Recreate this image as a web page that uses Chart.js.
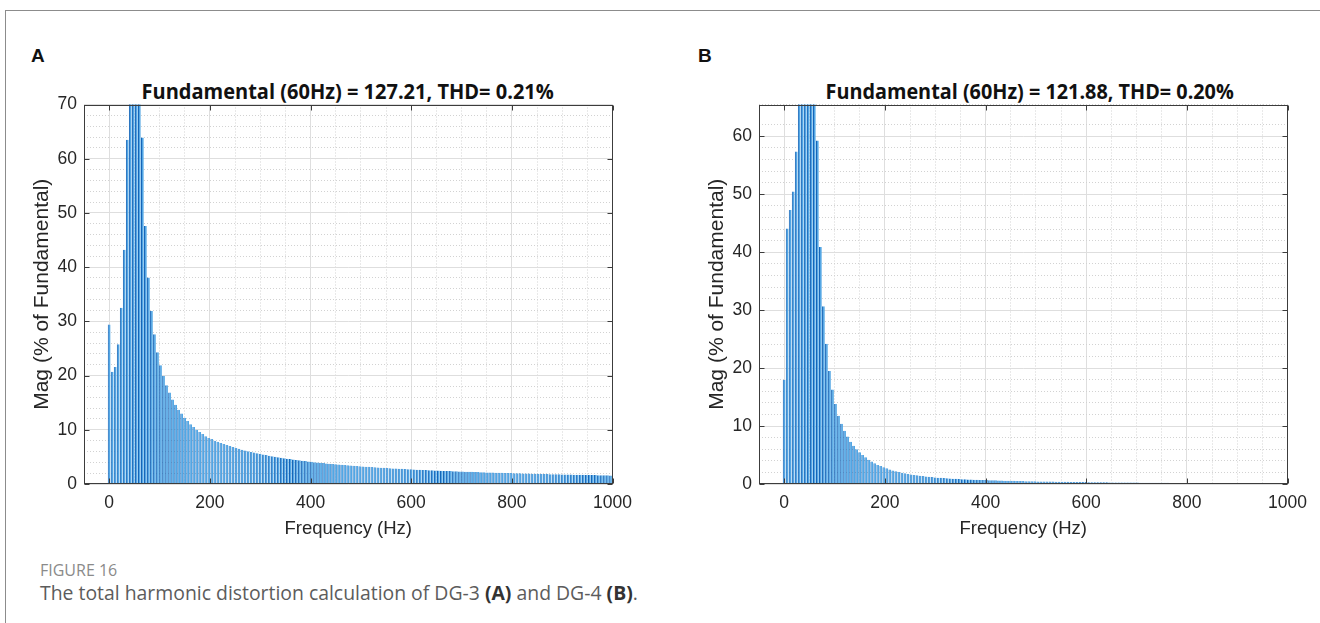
<!DOCTYPE html>
<html>
<head>
<meta charset="utf-8">
<script src="https://cdn.jsdelivr.net/npm/chart.js@4.4.1/dist/chart.umd.min.js"></script>
<style>
    html, body { margin: 0; padding: 0; background: #fff; }
    body { width: 1320px; height: 623px; position: relative; overflow: hidden; font-family: "Liberation Sans", Arial, sans-serif; }
    .frame-top { position: absolute; left: 5px; top: 10px; width: 1315px; border-top: 1.5px solid #8c8c8c; }
    .frame-left { position: absolute; left: 5px; top: 10px; height: 613px; border-left: 1.5px solid #8c8c8c; }
    .panel { position: absolute; font-weight: bold; font-size: 19px; color: #111; line-height: 1; }
    .ttl { position: absolute; width: 600px; text-align: center; line-height: 1; white-space: nowrap; }
    .ttl span { display: inline-block; font-family: "Open Sans", sans-serif; font-weight: 700; font-size: 22px; color: #111; transform-origin: center; }
    canvas { position: absolute; }
    .cap1 { position: absolute; left: 40px; top: 560px; font-family: "Open Sans", sans-serif; font-size: 16px; color: #8a8a8a; line-height: 21px; }
    .cap2 { position: absolute; left: 40px; top: 580px; font-family: "Open Sans", sans-serif; font-size: 19.4px; color: #5c5c5c; white-space: nowrap; line-height: 26px; }
    .cap2 b { color: #333; }
</style>
</head>
<body>
<div class="frame-top"></div>
<div class="frame-left"></div>

<div class="panel" style="left:31px; top:46px;">A</div>
<div class="panel" style="left:698px; top:46px;">B</div>

<div class="ttl" style="left:48px; top:79px;"><span id="ttlA">Fundamental (60Hz) = 127.21, THD= 0.21%</span></div>
<div class="ttl" style="left:730px; top:79px;"><span id="ttlB">Fundamental (60Hz) = 121.88, THD= 0.20%</span></div>

<canvas id="chartA" width="614" height="456" style="left:27px; top:87px;"></canvas>
<canvas id="chartB" width="614" height="456" style="left:702px; top:87px;"></canvas>

<div class="cap1">FIGURE 16</div>
<div class="cap2">The total harmonic distortion calculation of DG-3 <b>(A)</b> and DG-4 <b>(B)</b>.</div>

<script>
// ── Veri ──
const freqs = [
    0, 6, 12, 18, 24, 30, 36, 42, 48, 54,
    60, 66, 72, 78, 84, 90, 96, 102, 108, 114,
    120, 126, 132, 138, 144, 150, 156, 162, 168, 174,
    180, 186, 192, 198, 204, 210, 216, 222, 228, 234,
    240, 246, 252, 258, 264, 270, 276, 282, 288, 294,
    300, 306, 312, 318, 324, 330, 336, 342, 348, 354,
    360, 366, 372, 378, 384, 390, 396, 402, 408, 414,
    420, 426, 432, 438, 444, 450, 456, 462, 468, 474,
    480, 486, 492, 498, 504, 510, 516, 522, 528, 534,
    540, 546, 552, 558, 564, 570, 576, 582, 588, 594,
    600, 606, 612, 618, 624, 630, 636, 642, 648, 654,
    660, 666, 672, 678, 684, 690, 696, 702, 708, 714,
    720, 726, 732, 738, 744, 750, 756, 762, 768, 774,
    780, 786, 792, 798, 804, 810, 816, 822, 828, 834,
    840, 846, 852, 858, 864, 870, 876, 882, 888, 894,
    900, 906, 912, 918, 924, 930, 936, 942, 948, 954,
    960, 966, 972, 978, 984, 990, 996
];

// DG-3 (A)
const magA = [
    29.4, 20.7, 21.6, 25.8, 32.5, 43.2, 63.5, 88, 97, 99,
    100, 63.9, 47.6, 38.1, 31.9, 27.6, 24.3, 21.9, 19.9, 18.2,
    16.9, 15.6, 14.6, 13.7, 13.0, 12.2, 11.6, 11.0, 10.5, 10.0,
    9.6, 9.2, 8.8, 8.5, 8.3, 8.0, 7.8, 7.58, 7.38, 7.18,
    6.99, 6.82, 6.65, 6.49, 6.34, 6.19, 6.05, 5.92, 5.79, 5.67,
    5.55, 5.44, 5.33, 5.22, 5.12, 5.03, 4.93, 4.85, 4.76, 4.67,
    4.59, 4.52, 4.44, 4.37, 4.30, 4.23, 4.16, 4.10, 4.03, 3.97,
    3.91, 3.86, 3.80, 3.75, 3.69, 3.64, 3.59, 3.55, 3.50, 3.45,
    3.41, 3.36, 3.32, 3.28, 3.24, 3.20, 3.16, 3.12, 3.09, 3.05,
    3.01, 2.98, 2.95, 2.91, 2.88, 2.85, 2.82, 2.79, 2.76, 2.73,
    2.70, 2.67, 2.65, 2.62, 2.59, 2.57, 2.54, 2.52, 2.49, 2.47,
    2.45, 2.42, 2.40, 2.38, 2.36, 2.34, 2.32, 2.30, 2.28, 2.26,
    2.24, 2.22, 2.20, 2.18, 2.16, 2.14, 2.13, 2.11, 2.09, 2.07,
    2.06, 2.04, 2.03, 2.01, 1.99, 1.98, 1.96, 1.95, 1.93, 1.92,
    1.91, 1.89, 1.88, 1.86, 1.85, 1.84, 1.82, 1.81, 1.80, 1.78,
    1.77, 1.76, 1.75, 1.74, 1.72, 1.71, 1.70, 1.69, 1.68, 1.67,
    1.66, 1.64, 1.63, 1.62, 1.61, 1.60, 1.59
];

// DG-4 (B)
const magB = [
    18.0, 44.1, 47.3, 50.5, 57.4, 70, 82, 92, 98, 99,
    100, 59.3, 40.9, 30.7, 24.2, 19.5, 16.3, 13.8, 11.8, 10.4,
    9.2, 8.2, 7.3, 6.6, 6.0, 5.5, 5.0, 4.6, 4.2, 3.9,
    3.6, 3.3, 3.1, 2.9, 2.7, 2.5, 2.35, 2.2, 2.07, 1.95,
    1.84, 1.74, 1.65, 1.57, 1.49, 1.42, 1.36, 1.30, 1.24, 1.19,
    1.14, 1.10, 1.06, 1.02, 0.98, 0.95, 0.92, 0.89, 0.86, 0.84,
    0.81, 0.79, 0.77, 0.75, 0.73, 0.71, 0.70, 0.68, 0.66, 0.64,
    0.63, 0.61, 0.60, 0.58, 0.57, 0.55, 0.54, 0.53, 0.51, 0.50,
    0.49, 0.48, 0.47, 0.46, 0.45, 0.44, 0.43, 0.42, 0.41, 0.41,
    0.40, 0.39, 0.38, 0.37, 0.37, 0.36, 0.35, 0.35, 0.34, 0.33,
    0.33, 0.32, 0.31, 0.31, 0.30, 0.30, 0.29, 0.29, 0.28, 0.28,
    0.27, 0.27, 0.26, 0.26, 0.25, 0.25, 0.24, 0.24, 0.23, 0.23,
    0.23, 0.22, 0.22, 0.21, 0.21, 0.21, 0.20, 0.20, 0.19, 0.19,
    0.19, 0.18, 0.18, 0.18, 0.17, 0.17, 0.17, 0.16, 0.16, 0.16,
    0.16, 0.15, 0.15, 0.15, 0.14, 0.14, 0.14, 0.14, 0.13, 0.13,
    0.13, 0.13, 0.12, 0.12, 0.12, 0.12, 0.11, 0.11, 0.11, 0.11,
    0.11, 0.10, 0.10, 0.10, 0.10, 0.10, 0.10
];

// Etiketli tikler
const xTickLabels = [0, 200, 400, 600, 800, 1000];
const yTickLabelsA = [0, 10, 20, 30, 40, 50, 60, 70];
const yTickLabelsB = [0, 10, 20, 30, 40, 50, 60];

// ── Başlık genişliği (Calibri benzeri dar yazı) ──
function fitTitle(id, w) {
    const el = document.getElementById(id);
    el.style.transform = `scaleX(${w / el.offsetWidth})`;
}
fitTitle('ttlA', 412);
fitTitle('ttlB', 408);

// ── Grafik ──
Chart.defaults.font.family = '"Liberation Sans", Arial, sans-serif';
const axisColor = '#262626';
const majorGrid = '#dedede';
const minorGrid = '#d2d2d2';

function boxPlugin(yLabels) {
    return {
        id: 'matlabBox',
        afterDatasetsDraw(chart) {
            const { ctx, chartArea: a, scales: { x, y } } = chart;
            const L = Math.round(a.left) + 0.5, R = Math.round(a.right) - 0.5;
            const T = Math.round(a.top) + 0.5, B = Math.round(a.bottom) - 0.5;
            ctx.save();
            ctx.strokeStyle = '#3c3c3c';
            ctx.lineWidth = 1;
            ctx.strokeRect(L, T, R - L, B - T);
            ctx.beginPath();
            xTickLabels.forEach(v => {
                const px = Math.round(x.getPixelForValue(v)) + 0.5;
                ctx.moveTo(px, B); ctx.lineTo(px, B - 5);
                ctx.moveTo(px, T); ctx.lineTo(px, T + 5);
            });
            yLabels.forEach(v => {
                const py = Math.round(y.getPixelForValue(v)) + 0.5;
                ctx.moveTo(L, py); ctx.lineTo(L + 5, py);
                ctx.moveTo(R, py); ctx.lineTo(R - 5, py);
            });
            ctx.stroke();
            ctx.restore();
        }
    };
}

function makeChart(id, mags, yMax, yLabels) {
    const isMajorX = v => xTickLabels.includes(v);
    const isMajorY = v => yLabels.includes(v);
    new Chart(document.getElementById(id).getContext('2d'), {
        type: 'bar',
        data: {
            datasets: [{
                data: freqs.map((f, i) => ({ x: f, y: mags[i] })),
                backgroundColor: '#52a6e4',
                borderColor: '#1565b8',
                borderWidth: { left: 1, right: 0, top: 0, bottom: 0 },
                barPercentage: 1,
                categoryPercentage: 0.92
            }]
        },
        options: {
            responsive: false,
            animation: false,
            devicePixelRatio: 1,
            layout: { padding: 0 },
            plugins: { legend: { display: false }, tooltip: { enabled: false } },
            scales: {
                x: {
                    type: 'linear', min: -50, max: 1000, offset: false,
                    afterFit(s) { s.height = 59; },
                    ticks: {
                        stepSize: 50, autoSkip: false, maxRotation: 0, padding: 9,
                        color: axisColor, font: { size: 17.5 },
                        callback: v => isMajorX(v) ? String(v) : ''
                    },
                    grid: {
                        offset: false,
                        drawTicks: false,
                        color: c => (c.tick && isMajorX(c.tick.value)) ? majorGrid : minorGrid
                    },
                    border: {
                        display: false,
                        dash: c => (c.tick && isMajorX(c.tick.value)) ? [] : [1, 2]
                    },
                    title: {
                        display: true, text: 'Frequency (Hz)', color: axisColor,
                        font: { size: 18.5 }, padding: { top: 0, bottom: 3 }
                    }
                },
                y: {
                    min: 0, max: yMax,
                    afterFit(s) { s.width = 57; },
                    ticks: {
                        stepSize: 2, autoSkip: false, padding: 7,
                        color: axisColor, font: { size: 17.5 },
                        callback: v => isMajorY(v) ? String(v) : ''
                    },
                    grid: {
                        drawTicks: false,
                        color: c => (c.tick && isMajorY(c.tick.value)) ? majorGrid : minorGrid
                    },
                    border: {
                        display: false,
                        dash: c => (c.tick && isMajorY(c.tick.value)) ? [] : [1, 2]
                    },
                    title: {
                        display: true, text: 'Mag (% of Fundamental)', color: axisColor,
                        font: { size: 21 }, padding: { top: 3, bottom: 0 }
                    }
                }
            }
        },
        plugins: [boxPlugin(yLabels)]
    });
}

makeChart('chartA', magA, 70, yTickLabelsA);
makeChart('chartB', magB, 65.5, yTickLabelsB);
</script>
</body>
</html>
